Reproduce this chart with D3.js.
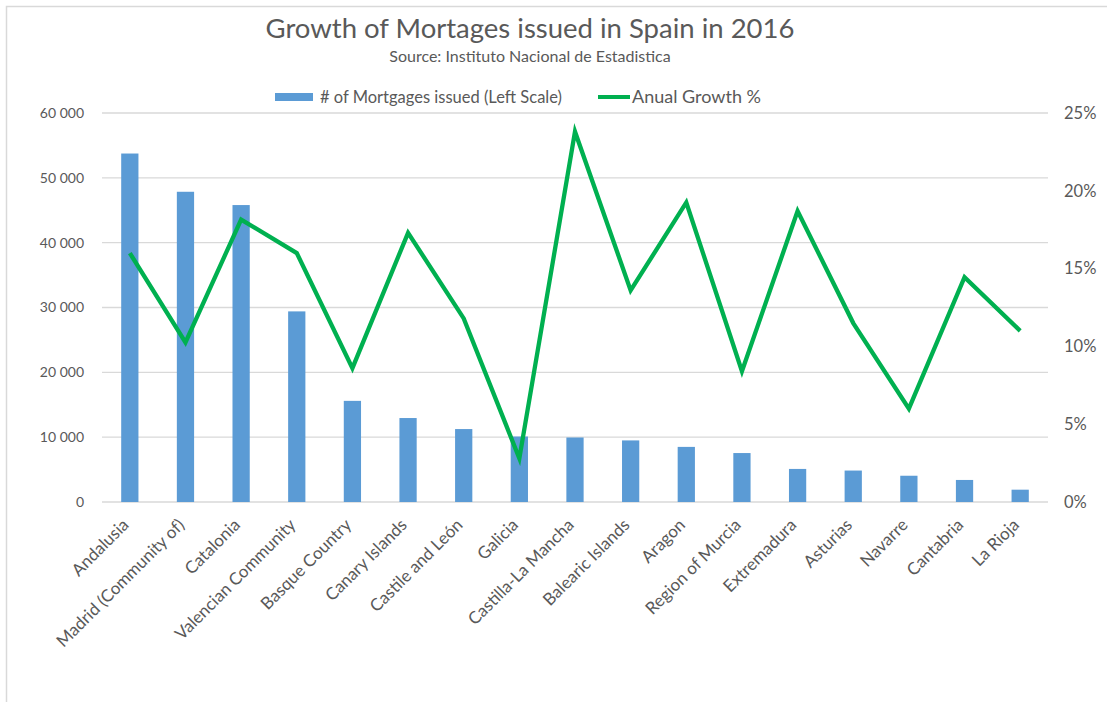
<!DOCTYPE html>
<html><head><meta charset="utf-8">
<script src="https://cdn.jsdelivr.net/npm/d3@7"></script>
<style>
html,body{margin:0;padding:0;background:#fff;}
svg text{font-family:Lato,"Noto Sans",sans-serif;fill:#595959;}
</style></head>
<body>
<svg id="chart" width="1107" height="702"></svg>
<script>
const regions = ["Andalusia","Madrid (Community of)","Catalonia","Valencian Community","Basque Country","Canary Islands","Castile and León","Galicia","Castilla-La Mancha","Balearic Islands","Aragon","Region of Murcia","Extremadura","Asturias","Navarre","Cantabria","La Rioja"];
const mortgages = [53750,47850,45800,29400,15600,12950,11250,10100,9950,9500,8500,7550,5100,4850,4050,3400,1900];
const growth = [0.160,0.1025,0.1815,0.160,0.086,0.173,0.118,0.028,0.238,0.136,0.1925,0.084,0.187,0.115,0.060,0.1445,0.110];
const leftTicks = [0,10000,20000,30000,40000,50000,60000];
const rightTicks = [0,0.05,0.10,0.15,0.20,0.25];
const title = "Growth of Mortages issued in Spain in 2016";
const subtitle = "Source: Instituto Nacional de Estadistica";
const legendBar = "# of Mortgages issued (Left Scale)";
const legendLine = "Anual Growth %";

const svg = d3.select("#chart");
const W = 1107, H = 702;
const m = {left:102, right:1048, top:113, bottom:502};

// frame
svg.append("path").attr("d",`M6.5,${H} V6.5 H${W}`).attr("fill","none").attr("stroke","#d9d9d9").attr("stroke-width",1.5);

const x = d3.scaleBand().domain(regions).range([m.left,m.right]).paddingInner(0.69).paddingOuter(0.345);
const yL = d3.scaleLinear().domain([0,60000]).range([m.bottom,m.top]);
const yR = d3.scaleLinear().domain([0,0.25]).range([m.bottom,m.top]);

const fmt = d3.formatLocale({decimal:".",thousands:" ",grouping:[3],currency:["",""]}).format(",");

// gridlines
svg.append("g").selectAll("line").data(leftTicks).join("line")
  .attr("x1",m.left).attr("x2",m.right)
  .attr("y1",d=>yL(d)).attr("y2",d=>yL(d))
  .attr("stroke","#d9d9d9").attr("stroke-width",1.3);

// left axis
const gl = svg.append("g").attr("transform",`translate(${m.left},0)`)
  .call(d3.axisLeft(yL).tickValues(leftTicks).tickFormat(fmt).tickSize(0).tickPadding(18));
gl.select(".domain").remove();
gl.selectAll("text").attr("font-size",14).attr("fill","#595959").attr("font-family","Lato");

// right axis
const gr = svg.append("g").attr("transform",`translate(${m.right},0)`)
  .call(d3.axisRight(yR).tickValues(rightTicks).tickFormat(d3.format(".0%")).tickSize(0).tickPadding(16));
gr.select(".domain").remove();
gr.selectAll("text").attr("font-size",16.5).attr("fill","#595959").attr("font-family","Lato");

// bars
svg.append("g").selectAll("rect").data(regions).join("rect")
  .attr("x",d=>x(d)).attr("width",x.bandwidth())
  .attr("y",(d,i)=>yL(mortgages[i])).attr("height",(d,i)=>yL(0)-yL(mortgages[i]))
  .attr("fill","#5b9bd5");

// line
const line = d3.line().x((d,i)=>x(regions[i])+x.bandwidth()/2).y(d=>yR(d));
svg.append("path").datum(growth).attr("d",line)
  .attr("fill","none").attr("stroke","#00b050").attr("stroke-width",4.3).attr("stroke-linejoin","miter");

// x labels
const gx = svg.append("g").attr("transform",`translate(0,${m.bottom})`)
  .call(d3.axisBottom(x).tickSize(0).tickPadding(0));
gx.select(".domain").remove();
gx.selectAll("text").attr("font-size",17).attr("fill","#595959").attr("font-family","Lato")
  .attr("text-anchor","end").attr("dy",0).attr("y",0)
  .attr("transform","translate(0,24) rotate(-45)");

// title
svg.append("text").attr("x",530).attr("y",38).attr("text-anchor","middle").attr("font-size",27.5).text(title);
svg.append("text").attr("x",530).attr("y",62).attr("text-anchor","middle").attr("font-size",16).text(subtitle);

// legend
const lg = svg.append("g");
lg.append("rect").attr("x",275).attr("y",93).attr("width",38).attr("height",8).attr("fill","#5b9bd5");
lg.append("text").attr("x",320).attr("y",103).attr("font-size",16.5).text(legendBar);
lg.append("line").attr("x1",598).attr("x2",630).attr("y1",97).attr("y2",97).attr("stroke","#00b050").attr("stroke-width",4);
lg.append("text").attr("x",632).attr("y",103).attr("font-size",18).text(legendLine);
</script>
</body></html>
